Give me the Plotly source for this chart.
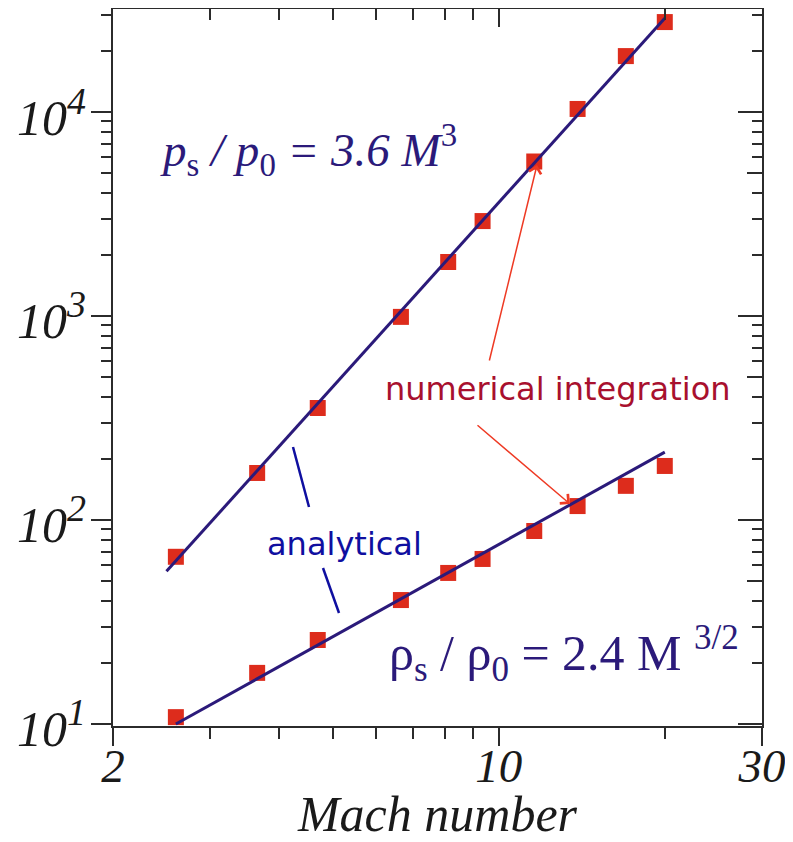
import plotly.graph_objects as go

# ---- data ----
mach = [2.6, 3.65, 4.7, 6.65, 8.1, 9.35, 11.6, 13.9, 17.0, 20.0]
pressure_ratio = [66, 170, 354, 990, 1840, 2920, 5720, 10350, 18800, 27600]
density_ratio = [10.8, 17.8, 25.8, 40.5, 55.0, 64.4, 88.3, 117, 147, 184]

# analytical fits (end points of the straight lines)
p_fit_mach = [2.5, 20.0]
p_fit_ratio = [56, 28800]
rho_fit_mach = [2.6, 20.0]
rho_fit_ratio = [10.0, 215]

# ticks
x_major = [2, 10, 30]
x_major_text = ["<i>2</i>", "<i>10</i>", "<i>30</i>"]
x_minor = [3, 4, 5, 6, 7, 8, 9, 20]
y_major = [10, 100, 1000, 10000]
y_exponents = ["1", "2", "3", "4"]
y_mid = [50, 500, 5000]
y_minor = [20, 30, 40, 50, 60, 70, 80, 90,
           200, 300, 400, 500, 600, 700, 800, 900,
           2000, 3000, 4000, 5000, 6000, 7000, 8000, 9000,
           20000, 30000]
y_major_text = ["<i>10</i><sup><i><span style='font-size:38px'>%s</span></i></sup>" % e
                for e in y_exponents]

AX = "#2b2b2b"
NAVY = "#2b1a7a"
RED = "#dd2c1c"
SERIF = "Liberation Serif"
SANS = "DejaVu Sans"

fig = go.Figure()

fig.add_trace(go.Scatter(x=mach, y=pressure_ratio, mode="markers",
                         marker=dict(symbol="square", size=16, color=RED),
                         name="numerical p", showlegend=False))
fig.add_trace(go.Scatter(x=mach, y=density_ratio, mode="markers",
                         marker=dict(symbol="square", size=16, color=RED),
                         name="numerical rho", showlegend=False))
fig.add_trace(go.Scatter(x=p_fit_mach, y=p_fit_ratio, mode="lines",
                         line=dict(color=NAVY, width=3),
                         name="analytical p", showlegend=False))
fig.add_trace(go.Scatter(x=rho_fit_mach, y=rho_fit_ratio, mode="lines",
                         line=dict(color=NAVY, width=3),
                         name="analytical rho", showlegend=False))
# invisible traces to carry the mirrored (top / right) axes
fig.add_trace(go.Scatter(x=[x_major[0], x_major[-1]], y=[y_major[0], y_major[-1]],
                         xaxis="x2", yaxis="y2", mode="markers",
                         marker=dict(opacity=0), hoverinfo="skip", showlegend=False))
fig.add_trace(go.Scatter(x=[x_major[0], x_major[-1]], y=[y_major[0], y_major[-1]],
                         xaxis="x", yaxis="y3", mode="markers",
                         marker=dict(opacity=0), hoverinfo="skip", showlegend=False))

xr = [0.30103, 1.4772]
yr = [0.99, 4.505]

# page body has an 8px default margin -> figure is offset by 8px
fig.update_layout(
    width=785, height=834,
    margin=dict(l=105, r=31, t=1, b=116, autoexpand=False),
    paper_bgcolor="white", plot_bgcolor="white",
    showlegend=False,
    xaxis=dict(type="log", range=xr, showline=True, linecolor=AX, linewidth=2,
               showgrid=False, zeroline=False, automargin=False,
               ticks="outside", ticklen=18, tickwidth=2, tickcolor=AX,
               tickmode="array", tickvals=x_major, ticktext=x_major_text,
               ticklabelstandoff=-20, ticklabeloverflow="allow",
               tickfont=dict(family=SERIF, size=47, color="#1a1a1a"),
               minor=dict(tickmode="array", tickvals=x_minor, ticks="outside",
                          ticklen=11, tickwidth=2, tickcolor=AX, showgrid=False),
               title=dict(text="<i>Mach number</i>", standoff=14,
                          font=dict(family=SERIF, size=50, color="#1a1a1a"))),
    yaxis=dict(type="log", range=yr, showline=True, linecolor=AX, linewidth=2,
               showgrid=False, zeroline=False, automargin=False,
               ticks="outside", ticklen=20, tickwidth=2, tickcolor=AX,
               tickmode="array", tickvals=y_major, ticktext=y_major_text,
               ticklabelshift=5, ticklabelstandoff=-5, ticklabeloverflow="allow",
               tickfont=dict(family=SERIF, size=50, color="#1a1a1a"),
               minor=dict(tickmode="array", tickvals=y_minor, ticks="outside",
                          ticklen=10, tickwidth=2, tickcolor=AX, showgrid=False)),
    xaxis2=dict(type="log", range=xr, overlaying="x", side="top", anchor="y",
                showline=True, linecolor=AX, linewidth=2, showgrid=False, zeroline=False,
                automargin=False,
                ticks="inside", ticklen=18, tickwidth=2, tickcolor=AX,
                tickmode="array", tickvals=[10], showticklabels=False,
                minor=dict(tickmode="array", tickvals=x_minor, ticks="inside",
                           ticklen=11, tickwidth=2, tickcolor=AX, showgrid=False)),
    yaxis2=dict(type="log", range=yr, overlaying="y", side="right", anchor="x",
                showline=True, linecolor=AX, linewidth=2, showgrid=False, zeroline=False,
                automargin=False,
                ticks="inside", ticklen=24, tickwidth=2, tickcolor=AX,
                tickmode="array", tickvals=y_major, showticklabels=False,
                minor=dict(tickmode="array", tickvals=y_minor, ticks="inside",
                           ticklen=10, tickwidth=2, tickcolor=AX, showgrid=False)),
    yaxis3=dict(type="log", range=yr, overlaying="y", side="right", anchor="x",
                showline=False, showgrid=False, zeroline=False, automargin=False,
                ticks="inside", ticklen=15, tickwidth=2, tickcolor=AX,
                tickmode="array", tickvals=y_mid, showticklabels=False),
)

def px2paper(X, Y):
    return (X - 113) / 649.0, 1 - (Y - 9) / 717.0

ann = []
x0, y0 = px2paper(308, 150)
ann.append(dict(xref="paper", yref="paper", x=x0, y=y0, xanchor="center", yanchor="middle",
                showarrow=False,
                text="<i>p</i><sub>s</sub><i> / p</i><sub>0</sub><i> = 3.6 M</i><sup>3</sup>",
                font=dict(family=SERIF, size=47, color=NAVY)))
x0, y0 = px2paper(564, 653)
ann.append(dict(xref="paper", yref="paper", x=x0, y=y0, xanchor="center", yanchor="middle",
                showarrow=False,
                text="ρ<sub>s</sub> / ρ<sub>0</sub> = 2.4 M <sup>3/2</sup>",
                font=dict(family=SERIF, size=50, color=NAVY)))
x0, y0 = px2paper(558, 389)
ann.append(dict(xref="paper", yref="paper", x=x0, y=y0, xanchor="center", yanchor="middle",
                showarrow=False, text="numerical integration",
                font=dict(family=SANS, size=32, color="#a8102e")))
x0, y0 = px2paper(344, 544)
ann.append(dict(xref="paper", yref="paper", x=x0, y=y0, xanchor="center", yanchor="middle",
                showarrow=False, text="analytical",
                font=dict(family=SANS, size=32, color="#0f0fa0")))
# red arrows
for (hx, hy, tx, ty) in [(537, 165, 489, 362), (570, 504, 476, 424)]:
    x0, y0 = px2paper(hx, hy)
    ann.append(dict(xref="paper", yref="paper", x=x0, y=y0, text="", showarrow=True,
                    ax=tx - hx, ay=ty - hy, arrowhead=4, arrowsize=1.6, arrowwidth=1.5,
                    arrowcolor="#ee3a24", standoff=0))
fig.update_layout(annotations=ann)

# blue pointer lines from "analytical"
for (ax_, ay_, bx, by) in [(293, 447, 309, 507), (323, 568, 339, 613)]:
    p0 = px2paper(ax_, ay_)
    p1 = px2paper(bx, by)
    fig.add_shape(type="line", xref="paper", yref="paper", x0=p0[0], y0=p0[1],
                  x1=p1[0], y1=p1[1], line=dict(color="#0f0fa0", width=2.5))

fig.write_html("out.html")
